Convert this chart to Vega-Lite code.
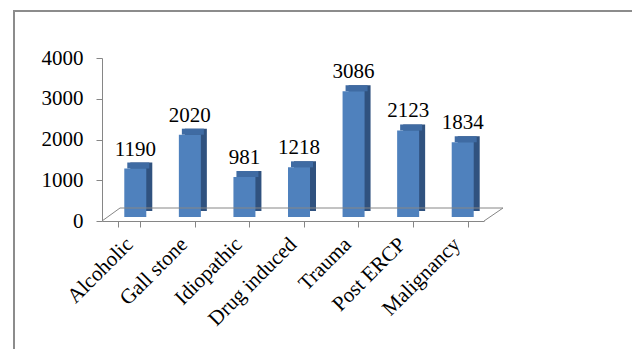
{
  "$schema": "https://vega.github.io/schema/vega-lite/v6.json",
  "width": 382,
  "height": 163,
  "autosize": {"type": "none"},
  "padding": {"left": 102, "top": 58, "right": 148, "bottom": 128},
  "background": "white",
  "config": {"view": {"stroke": null}, "font": "Liberation Serif"},
  "datasets": {
    "causes": [
      {"cause": "Alcoholic", "count": 1190},
      {"cause": "Gall stone", "count": 2020},
      {"cause": "Idiopathic", "count": 981},
      {"cause": "Drug induced", "count": 1218},
      {"cause": "Trauma", "count": 3086},
      {"cause": "Post ERCP", "count": 2123},
      {"cause": "Malignancy", "count": 1834}
    ],
    "frame": [{"k": 0}]
  },
  "layer": [
    {
      "data": {"name": "causes"},
      "encoding": {
        "x": {
          "field": "cause", "type": "nominal", "sort": null,
          "scale": {"paddingInner": 0.6, "paddingOuter": 0.3},
          "axis": {
            "title": null, "grid": false, "tickBand": "extent",
            "labelAngle": -45, "labelAlign": "right", "labelBaseline": "middle",
            "labelFontSize": 21, "labelColor": "black", "labelFont": "Liberation Serif",
            "labelPadding": 14, "domainColor": "#868686", "tickColor": "#868686", "tickSize": 6
          }
        },
        "y": {
          "field": "count", "type": "quantitative",
          "scale": {"domain": [0, 4000], "nice": false},
          "axis": {
            "title": null, "grid": false, "values": [0, 1000, 2000, 3000, 4000], "format": "d",
            "labelFontSize": 21, "labelColor": "black", "labelFont": "Liberation Serif",
            "labelPadding": 13, "domainColor": "#868686", "tickColor": "#868686", "tickSize": 6
          }
        }
      },
      "layer": [
        {"mark": {"type": "bar", "color": "#30527F", "width": 22, "xOffset": 12, "yOffset": -10, "y2Offset": -10}},
        {
          "mark": {"type": "bar", "color": "#3F6BA3", "width": 22, "xOffset": 9, "yOffset": -10, "y2Offset": -4},
          "encoding": {"y2": {"field": "count"}}
        },
        {"mark": {"type": "bar", "color": "#4F81BD", "width": 22, "xOffset": 6, "yOffset": -4, "y2Offset": -4}},
        {
          "mark": {"type": "text", "dx": 6, "dy": -17, "baseline": "alphabetic", "fontSize": 21, "color": "black", "font": "Liberation Serif"},
          "encoding": {"text": {"field": "count", "type": "quantitative", "format": "d"}}
        }
      ]
    },
    {
      "data": {"name": "frame"},
      "layer": [
        {
          "mark": {"type": "rule", "color": "#868686", "strokeWidth": 1, "x2Offset": 18, "y2Offset": -13},
          "encoding": {
            "x": {"datum": 0, "type": "quantitative", "scale": {"domain": [0, 1], "nice": false, "zero": false}, "axis": null},
            "x2": {"datum": 0},
            "y": {"datum": 0, "type": "quantitative"},
            "y2": {"datum": 0}
          }
        },
        {
          "mark": {"type": "rule", "color": "#868686", "strokeWidth": 1, "x2Offset": 19, "y2Offset": -13},
          "encoding": {
            "x": {"datum": 1, "type": "quantitative", "scale": {"domain": [0, 1], "nice": false, "zero": false}, "axis": null},
            "x2": {"datum": 1},
            "y": {"datum": 0, "type": "quantitative"},
            "y2": {"datum": 0}
          }
        },
        {
          "mark": {"type": "rule", "color": "#868686", "strokeWidth": 1, "xOffset": 18, "x2Offset": 19, "yOffset": -13, "y2Offset": -13},
          "encoding": {
            "x": {"datum": 0, "type": "quantitative", "scale": {"domain": [0, 1], "nice": false, "zero": false}, "axis": null},
            "x2": {"datum": 1},
            "y": {"datum": 0, "type": "quantitative"},
            "y2": {"datum": 0}
          }
        },
        {
          "mark": {"type": "rule", "color": "#8C8C8C", "strokeWidth": 2, "xOffset": -88, "x2Offset": 200, "yOffset": -47, "y2Offset": -47},
          "encoding": {
            "x": {"datum": 0, "type": "quantitative", "scale": {"domain": [0, 1], "nice": false, "zero": false}, "axis": null},
            "x2": {"datum": 1},
            "y": {"datum": 4000, "type": "quantitative"},
            "y2": {"datum": 4000}
          }
        },
        {
          "mark": {"type": "rule", "color": "#8C8C8C", "strokeWidth": 2, "xOffset": -88, "x2Offset": -88, "yOffset": -48, "y2Offset": 200},
          "encoding": {
            "x": {"datum": 0, "type": "quantitative", "scale": {"domain": [0, 1], "nice": false, "zero": false}, "axis": null},
            "x2": {"datum": 0},
            "y": {"datum": 4000, "type": "quantitative"},
            "y2": {"datum": 0}
          }
        }
      ]
    }
  ],
  "resolve": {"scale": {"x": "independent"}}
}
